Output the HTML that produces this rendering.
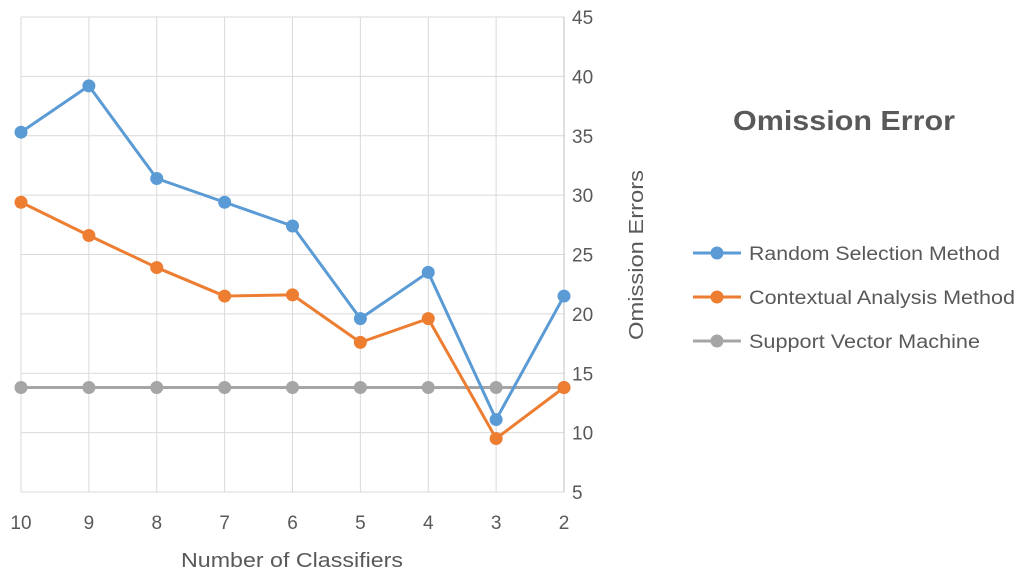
<!DOCTYPE html>
<html><head><meta charset="utf-8">
<style>
html,body{margin:0;padding:0;background:#fff;}
svg{display:block;font-family:"Liberation Sans",sans-serif;}
</style></head>
<body>
<svg id="chart" width="1024" height="579" viewBox="0 0 1024 579">
<g id="grid"></g>
<g id="series"></g>
<g id="labels"></g>
<text x="181" y="567" textLength="222" lengthAdjust="spacingAndGlyphs" font-size="20" fill="#595959">Number of Classifiers</text>
<text x="0" y="0" transform="translate(643,255) rotate(-90)" text-anchor="middle" textLength="170" lengthAdjust="spacingAndGlyphs" font-size="20" fill="#595959">Omission Errors</text>
<text x="733" y="130" textLength="222" lengthAdjust="spacingAndGlyphs" font-size="28" font-weight="bold" fill="#595959">Omission Error</text>
<g id="legend"></g>
</svg>
<script>
const categories = ["10","9","8","7","6","5","4","3","2"];
const randomSel = [35.3,39.2,31.4,29.4,27.4,19.6,23.5,11.1,21.5];
const contextual = [29.4,26.6,23.9,21.5,21.6,17.6,19.6,9.5,13.8];
const svm = [13.8,13.8,13.8,13.8,13.8,13.8,13.8,13.8,13.8];
const yTicks = [5,10,15,20,25,30,35,40,45];
const seriesNames = ["Random Selection Method","Contextual Analysis Method","Support Vector Machine"];
const seriesColors = ["#5b9bd5","#ed7d31","#a5a5a5"];
const legendWidths = [251,266,231];

const NS="http://www.w3.org/2000/svg";
const x0=21,x1=564,yTop=17,yBot=492,yMin=5,yMax=45;
function xPos(i){return x0+i*(x1-x0)/(categories.length-1);}
function yPos(v){return yBot-(v-yMin)/(yMax-yMin)*(yBot-yTop);}
function mk(tag,attrs,parent){const e=document.createElementNS(NS,tag);for(const k in attrs)e.setAttribute(k,attrs[k]);parent.appendChild(e);return e;}
const grid=document.getElementById('grid'),ser=document.getElementById('series'),lab=document.getElementById('labels'),leg=document.getElementById('legend');
yTicks.forEach(t=>{
  const l=mk('line',{x1:x0,x2:x1,y1:yPos(t),y2:yPos(t),stroke:'#d9d9d9','stroke-width':1},grid);
  
  
  const tx=mk('text',{x:572,y:yPos(t)+7,'font-size':19,fill:'#595959'},lab);
  tx.textContent=t;
  
  
});
categories.forEach((c,i)=>{
  const l=mk('line',{x1:xPos(i),x2:xPos(i),y1:yTop,y2:yBot,stroke:'#d9d9d9','stroke-width':1},grid);
  
  
  const tx=mk('text',{x:xPos(i),y:529,'font-size':19,fill:'#595959','text-anchor':'middle'},lab);
  tx.textContent=c;
  
  
});
const ax=mk('line',{x1:x1,x2:x1,y1:yTop,y2:yBot,stroke:'#bfbfbf','stroke-width':1},grid);


const data=[randomSel,contextual,svm];
[2,1,0].forEach(s=>{
  const vals=data[s];
  const pts=vals.map((v,i)=>xPos(i)+','+yPos(v)).join(' ');
  const pl=mk('polyline',{points:pts,fill:'none',stroke:seriesColors[s],'stroke-width':3,'stroke-linejoin':'round'},ser);
  
  
  vals.forEach((v,i)=>{
    const c=mk('circle',{cx:xPos(i),cy:yPos(v),r:6.5,fill:seriesColors[s]},ser);
    
    
  });
});
seriesNames.forEach((n,s)=>{
  const y=253+s*44;
  const l=mk('line',{x1:693,x2:741,y1:y,y2:y,stroke:seriesColors[s],'stroke-width':3},leg);
  
  
  const c=mk('circle',{cx:717,cy:y,r:6.5,fill:seriesColors[s]},leg);
  
  
  const t=mk('text',{x:749,y:y+7,'font-size':19,fill:'#595959',textLength:legendWidths[s],lengthAdjust:'spacingAndGlyphs'},leg);
  t.textContent=n;
  
  
});
</script>
</body></html>
